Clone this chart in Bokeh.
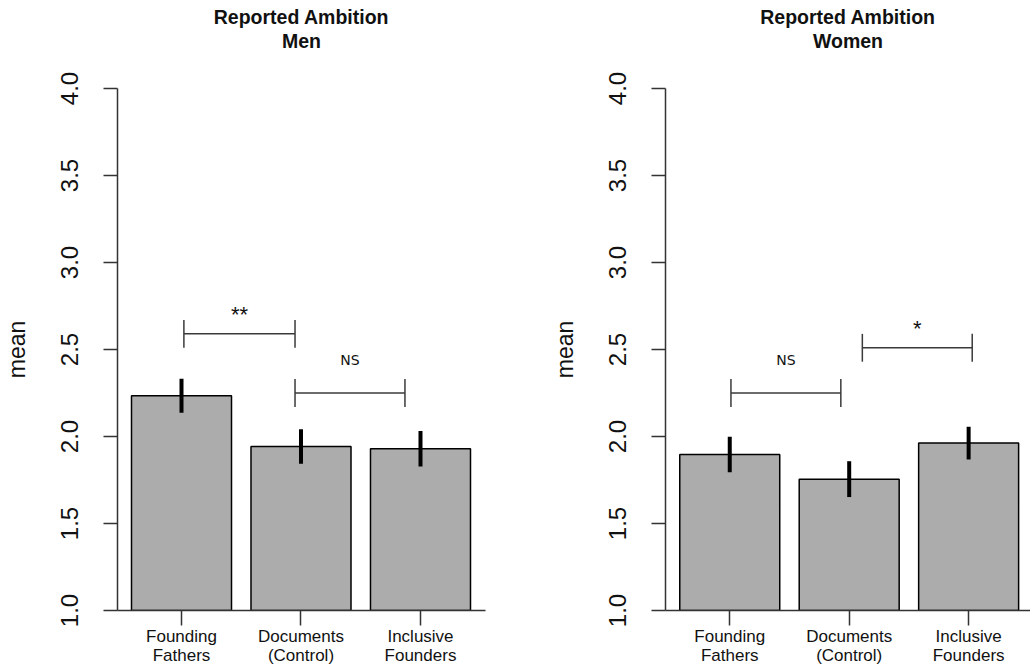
from bokeh.plotting import figure
from bokeh.layouts import row
from bokeh.models import Range1d, FixedTicker, Title, LinearAxis
from bokeh.embed import file_html
from bokeh.resources import INLINE
from bokeh.core.properties import value

# ---------------- data ----------------
categories = ["Founding\nFathers", "Documents\n(Control)", "Inclusive\nFounders"]
positions = [1, 2, 3]

men_means = [2.234, 1.943, 1.929]
men_err = [0.098, 0.099, 0.102]
women_means = [1.897, 1.755, 1.962]
women_err = [0.102, 0.103, 0.094]

men_sig_x0 = [1.02, 1.95]
men_sig_x1 = [1.95, 2.87]
men_sig_y = [2.59, 2.25]
men_sig_text = ["**", "NS"]

women_sig_x0 = [1.01, 2.11]
women_sig_x1 = [1.93, 3.03]
women_sig_y = [2.25, 2.51]
women_sig_text = ["NS", "*"]

y_ticks = [1.0, 1.5, 2.0, 2.5, 3.0, 3.5, 4.0]
y_tick_labels = ["1.0", "1.5", "2.0", "2.5", "3.0", "3.5", "4.0"]

FONT = "Liberation Sans"
AXIS_COLOR = "#333333"
TEXT_COLOR = "#111111"


def make_panel(subtitle, means, errs, sx0, sx1, sy, stext, width, bl, br,
               x_start, x_end, title_offset):
    p = figure(width=width, height=668, title=None,
               x_range=Range1d(x_start, x_end), y_range=Range1d(1.0, 4.0),
               output_backend="svg", toolbar_location=None,
               x_axis_type=None, y_axis_type=None,
               min_border_left=bl, min_border_right=br,
               min_border_top=88, min_border_bottom=58)
    p.outline_line_color = None
    p.background_fill_color = "white"
    p.border_fill_color = "white"

    # y axis
    yax = LinearAxis(ticker=FixedTicker(ticks=y_ticks), axis_label="mean")
    yax.major_label_overrides = {t: l for t, l in zip(y_ticks, y_tick_labels)}
    yax.major_label_orientation = "vertical"
    yax.major_label_text_font = FONT
    yax.major_label_text_font_size = "24px"
    yax.major_label_text_color = TEXT_COLOR
    yax.major_label_standoff = 26
    yax.major_tick_out = 14
    yax.major_tick_in = 0
    yax.minor_tick_line_color = None
    yax.axis_line_color = AXIS_COLOR
    yax.axis_line_width = 1.5
    yax.major_tick_line_color = AXIS_COLOR
    yax.major_tick_line_width = 1.5
    yax.axis_label_text_font = FONT
    yax.axis_label_text_font_size = "23px"
    yax.axis_label_text_font_style = "normal"
    yax.axis_label_text_color = TEXT_COLOR
    yax.axis_label_standoff = 28
    p.add_layout(yax, "left")

    # x axis
    xax = LinearAxis(ticker=FixedTicker(ticks=positions))
    xax.major_label_overrides = {x: c for x, c in zip(positions, categories)}
    xax.major_label_text_font = FONT
    xax.major_label_text_font_size = "17px"
    xax.major_label_text_color = TEXT_COLOR
    xax.major_label_text_line_height = 1.05
    xax.major_label_standoff = 1
    xax.major_tick_out = 15
    xax.major_tick_in = 0
    xax.minor_tick_line_color = None
    xax.axis_line_color = AXIS_COLOR
    xax.axis_line_width = 1.5
    xax.major_tick_line_color = AXIS_COLOR
    xax.major_tick_line_width = 1.5
    p.add_layout(xax, "below")

    # bars
    p.vbar(x=positions, top=means, bottom=1.0, width=0.837,
           fill_color="#acacac", line_color="black", line_width=1.5)

    # error bars
    lo = [m - e for m, e in zip(means, errs)]
    hi = [m + e for m, e in zip(means, errs)]
    p.segment(x0=positions, y0=lo, x1=positions, y1=hi,
              line_color="black", line_width=4)

    # significance brackets
    tick_h = 0.08
    p.segment(x0=sx0, y0=sy, x1=sx1, y1=sy, line_color="#3a3a3a", line_width=1.5)
    p.segment(x0=sx0, y0=[y - tick_h for y in sy], x1=sx0, y1=[y + tick_h for y in sy],
              line_color="#3a3a3a", line_width=1.5)
    p.segment(x0=sx1, y0=[y - tick_h for y in sy], x1=sx1, y1=[y + tick_h for y in sy],
              line_color="#3a3a3a", line_width=1.5)
    mids = [(a + b) / 2 for a, b in zip(sx0, sx1)]
    for xm, y, t in zip(mids, sy, stext):
        if t == "NS":
            p.text(x=[xm], y=[y + 0.19], text=[t], text_align="center",
                   text_baseline="middle", text_font=value("DejaVu Sans"),
                   text_font_size="14px", text_color=TEXT_COLOR)
        else:
            p.text(x=[xm], y=[y + 0.11], text=[t], text_align="center",
                   text_baseline="middle", text_font=value(FONT),
                   text_font_size="22px", text_color=TEXT_COLOR)

    # titles (spacer keeps the two title lines at the right distance from the frame)
    p.add_layout(Title(text=" ", align="center", text_font=FONT,
                       text_font_size="19px", standoff=13.5), "above")
    p.add_layout(Title(text=subtitle, align="center", text_font=FONT,
                       text_font_size="19.5px", text_font_style="bold",
                       text_color=TEXT_COLOR, standoff=0, offset=title_offset), "above")
    p.add_layout(Title(text="Reported Ambition", align="center", text_font=FONT,
                       text_font_size="19.5px", text_font_style="bold",
                       text_color=TEXT_COLOR, standoff=0, offset=title_offset), "above")
    return p


p1 = make_panel("Men", men_means, men_err, men_sig_x0, men_sig_x1, men_sig_y, men_sig_text,
                width=520, bl=117, br=35, x_start=0.4644, x_end=3.544,
                title_offset=-3)
p2 = make_panel("Women", women_means, women_err, women_sig_x0, women_sig_x1, women_sig_y,
                women_sig_text, width=510, bl=145, br=0, x_start=0.462, x_end=3.518,
                title_offset=-1)

layout = row(p1, p2)
open("out.html", "w").write(file_html(layout, INLINE))
